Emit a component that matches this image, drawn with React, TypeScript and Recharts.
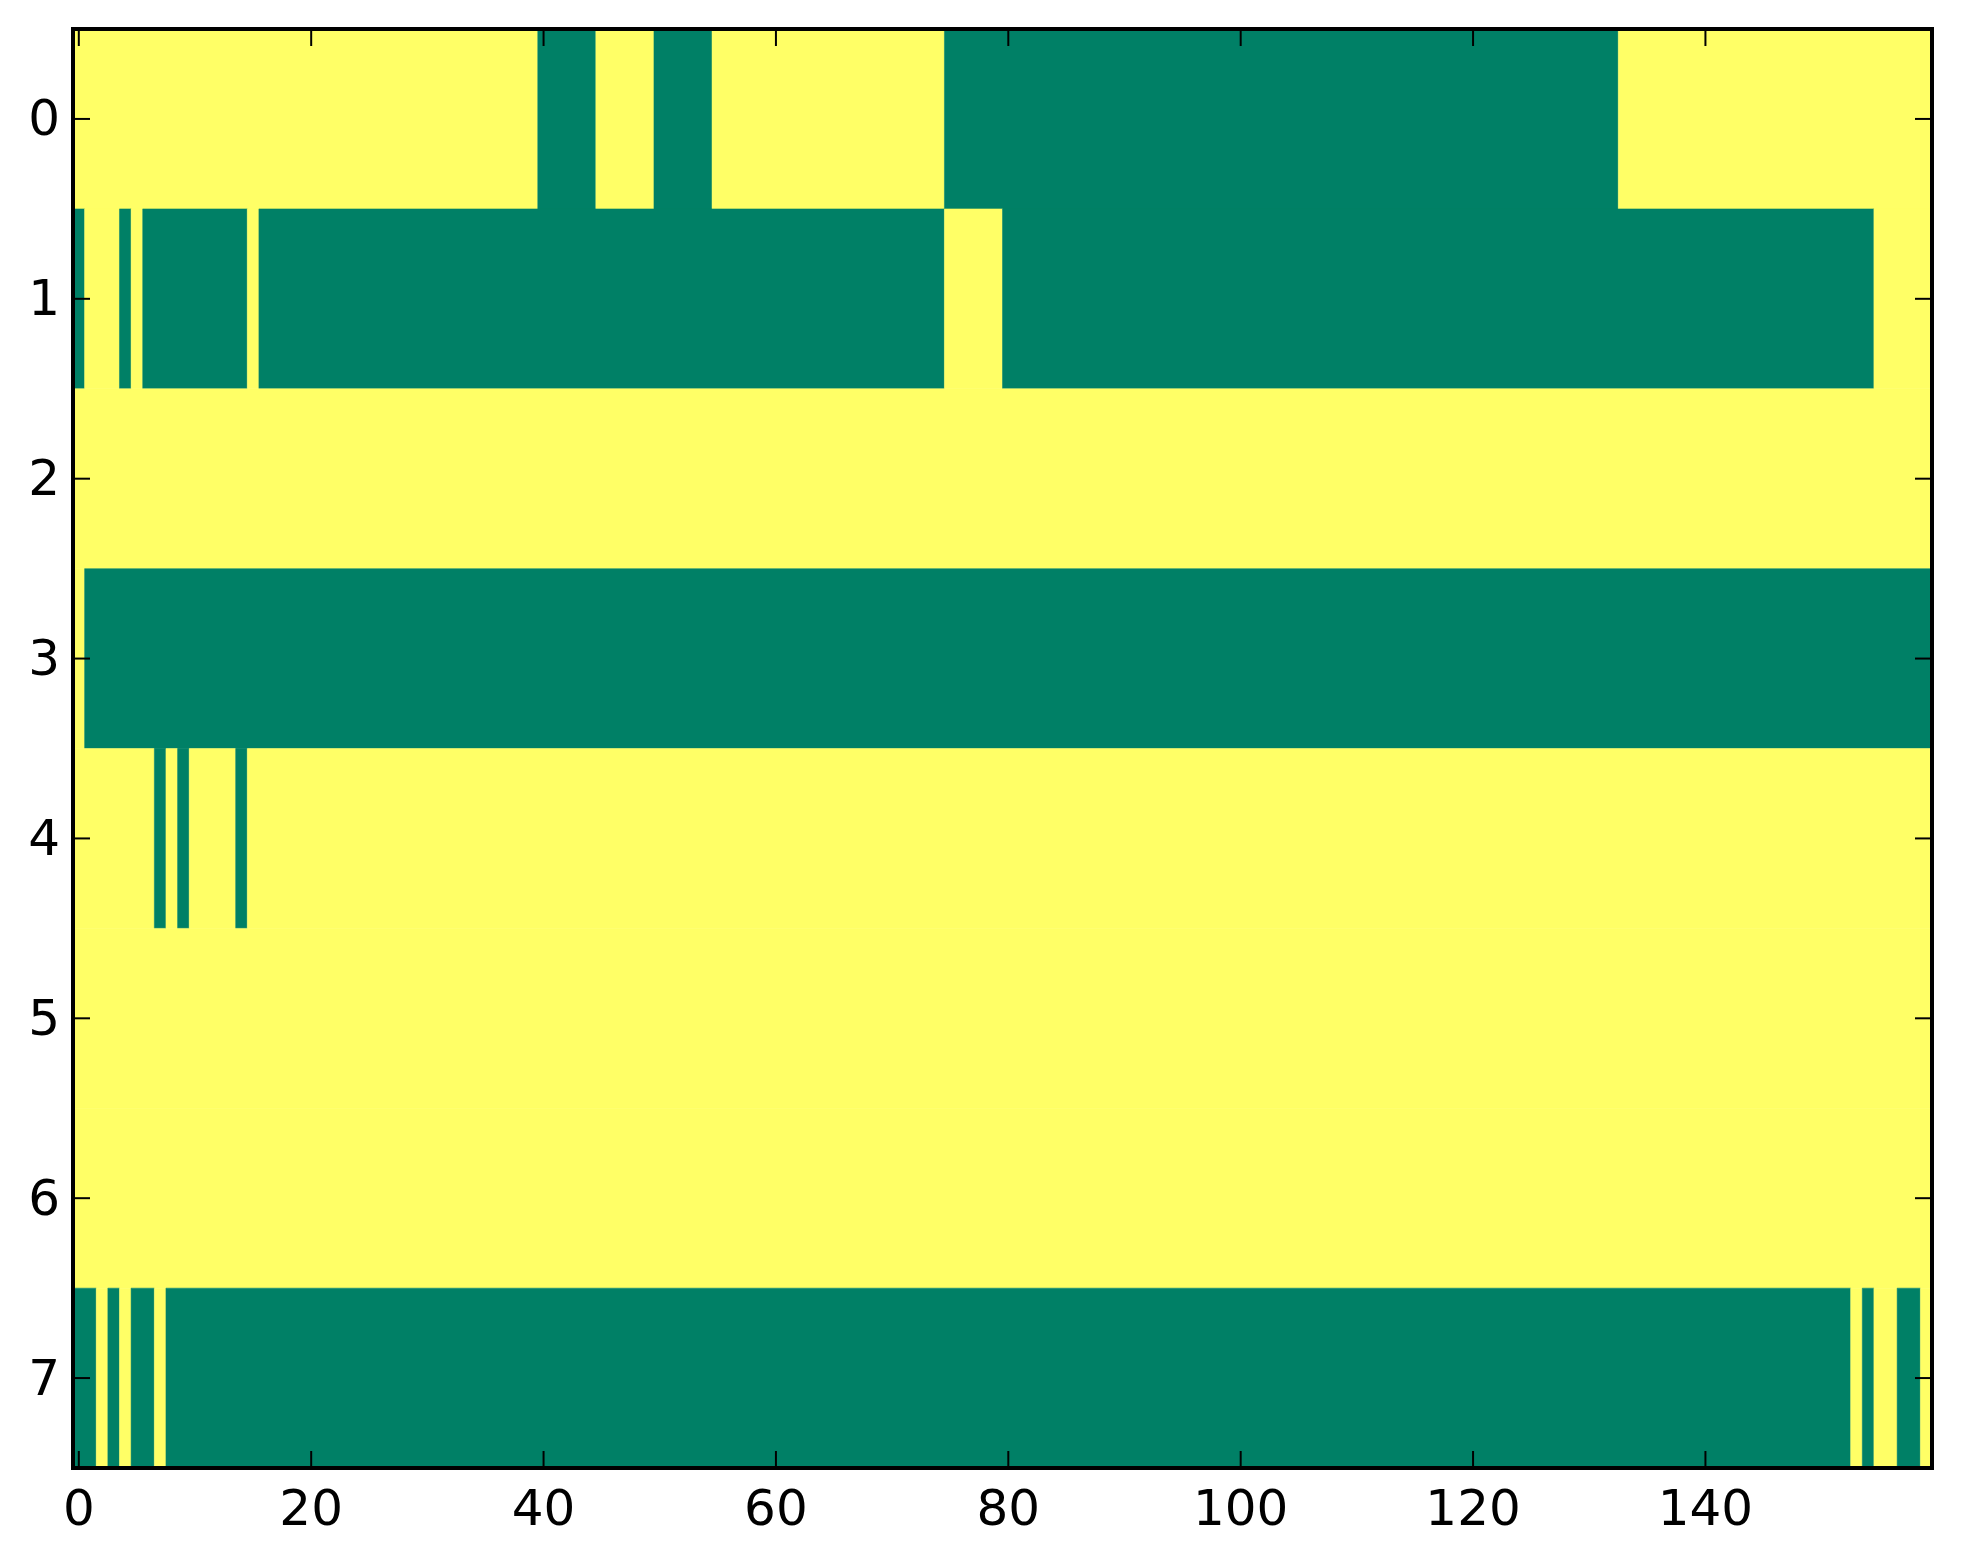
import React from 'react';
import { ComposedChart, XAxis, YAxis, ReferenceArea } from 'recharts';

// Matrix values (0 = green, 1 = yellow), stored as runs [startCol, endCol, value]
const row0 = [[0, 39, 1], [40, 44, 0], [45, 49, 1], [50, 54, 0], [55, 74, 1], [75, 132, 0], [133, 159, 1]];
const row1 = [[0, 0, 0], [1, 3, 1], [4, 4, 0], [5, 5, 1], [6, 14, 0], [15, 15, 1], [16, 74, 0], [75, 79, 1], [80, 154, 0], [155, 159, 1]];
const row2 = [[0, 159, 1]];
const row3 = [[0, 0, 1], [1, 159, 0]];
const row4 = [[0, 6, 1], [7, 7, 0], [8, 8, 1], [9, 9, 0], [10, 13, 1], [14, 14, 0], [15, 159, 1]];
const row5 = [[0, 159, 1]];
const row6 = [[0, 159, 1]];
const row7 = [[0, 1, 0], [2, 2, 1], [3, 3, 0], [4, 4, 1], [5, 6, 0], [7, 7, 1], [8, 152, 0], [153, 153, 1], [154, 154, 0], [155, 156, 1], [157, 158, 0], [159, 159, 1]];

const rows = [row0, row1, row2, row3, row4, row5, row6, row7];
const xTicks = [0, 20, 40, 60, 80, 100, 120, 140];
const yTicks = [0, 1, 2, 3, 4, 5, 6, 7];
const nCols = 160;
const nRows = 8;

const GREEN = '#008066';
const YELLOW = '#ffff66';
const FONT = 'DejaVu Sans';
const FS = 50;
const TL = 17;

const LeftTick = (props: any) => {
  const { x, y, payload } = props;
  return (
    <g>
      <line x1={x} y1={y} x2={x + TL} y2={y} stroke="#000" strokeWidth={2} />
      <text x={x - 13} y={y + 16.5} textAnchor="end" fontFamily={FONT} fontSize={FS} fill="#000">
        {payload.value}
      </text>
    </g>
  );
};

const RightTick = (props: any) => {
  const { x, y } = props;
  return <line x1={x} y1={y} x2={x - TL} y2={y} stroke="#000" strokeWidth={2} />;
};

const BottomTick = (props: any) => {
  const { x, y, payload } = props;
  return (
    <g>
      <line x1={x} y1={y} x2={x} y2={y - TL} stroke="#000" strokeWidth={2} />
      <text x={x} y={y + 57} textAnchor="middle" fontFamily={FONT} fontSize={FS} fill="#000">
        {payload.value}
      </text>
    </g>
  );
};

const TopTick = (props: any) => {
  const { x, y } = props;
  return <line x1={x} y1={y} x2={x} y2={y + TL} stroke="#000" strokeWidth={2} />;
};

export default function App() {
  const xDomain: [number, number] = [-0.5, nCols - 0.5];
  const yDomain: [number, number] = [-0.5, nRows - 0.5];
  const areas: React.ReactNode[] = [];
  rows.forEach((runs, r) => {
    runs.forEach((run, i) => {
      const [s, e, v] = run;
      const c = v === 0 ? GREEN : YELLOW;
      areas.push(
        <ReferenceArea
          key={`r${r}-${i}`}
          x1={s - 0.5}
          x2={e + 0.5}
          y1={r - 0.5}
          y2={r + 0.5}
          fill={c}
          fillOpacity={1}
          stroke={c}
          strokeWidth={0.5}
          ifOverflow="visible"
        />
      );
    });
  });
  const axisLine = { stroke: '#000', strokeWidth: 4 };
  return (
    <div style={{ position: 'absolute', left: 0, top: 0, width: 1963, height: 1564, background: '#fff' }}>
      <ComposedChart width={1963} height={1564} margin={{ top: 28, right: 30, bottom: 0, left: 0 }} data={[]}>
        {areas}
        <ReferenceArea
          x1={xDomain[0]}
          x2={xDomain[1]}
          y1={yDomain[0]}
          y2={yDomain[1]}
          fill="none"
          fillOpacity={0}
          stroke="#000"
          strokeWidth={4}
          ifOverflow="visible"
        />
        <XAxis
          xAxisId={0}
          type="number"
          dataKey="x"
          domain={xDomain}
          ticks={xTicks}
          interval={0}
          allowDataOverflow
          height={96}
          tickSize={0}
          tickMargin={0}
          tickLine={false}
          axisLine={axisLine}
          tick={<BottomTick />}
        />
        <XAxis
          xAxisId="t"
          orientation="top"
          type="number"
          dataKey="x"
          domain={xDomain}
          ticks={xTicks}
          interval={0}
          allowDataOverflow
          height={1}
          tickSize={0}
          tickMargin={0}
          tickLine={false}
          axisLine={axisLine}
          tick={<TopTick />}
        />
        <YAxis
          yAxisId={0}
          type="number"
          dataKey="y"
          domain={yDomain}
          ticks={yTicks}
          interval={0}
          reversed
          allowDataOverflow
          width={73}
          tickSize={0}
          tickMargin={0}
          tickLine={false}
          axisLine={axisLine}
          tick={<LeftTick />}
        />
        <YAxis
          yAxisId="r"
          orientation="right"
          type="number"
          dataKey="y"
          domain={yDomain}
          ticks={yTicks}
          interval={0}
          reversed
          allowDataOverflow
          width={1}
          tickSize={0}
          tickMargin={0}
          tickLine={false}
          axisLine={axisLine}
          tick={<RightTick />}
        />
      </ComposedChart>
    </div>
  );
}
